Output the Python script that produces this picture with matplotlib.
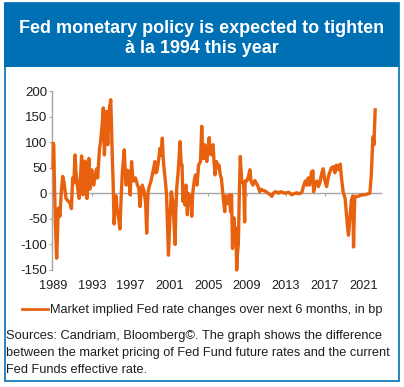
import matplotlib
matplotlib.use("Agg")
import matplotlib.pyplot as plt
from matplotlib.patches import Rectangle
from matplotlib.lines import Line2D

# ---------------- data ----------------
dates = [
    1989.00, 1989.03, 1989.08, 1989.15, 1989.25, 1989.38, 1989.45, 1989.55, 1989.65, 1989.72,
    1989.85, 1990.00, 1990.15, 1990.34, 1990.55, 1990.75, 1990.90, 1991.03, 1991.15, 1991.27,
    1991.38, 1991.50, 1991.70, 1991.80, 1991.95, 1992.05, 1992.10, 1992.20, 1992.30, 1992.40,
    1992.50, 1992.60, 1992.70, 1992.80, 1992.90, 1993.00, 1993.10, 1993.20, 1993.35, 1993.50,
    1993.60, 1993.70, 1993.80, 1993.90, 1994.05, 1994.19, 1994.25, 1994.30, 1994.40, 1994.50,
    1994.58, 1994.65, 1994.75, 1994.85, 1994.95, 1995.02, 1995.10, 1995.20, 1995.30, 1995.40,
    1995.50, 1995.60, 1995.75, 1995.90, 1996.00, 1996.15, 1996.35, 1996.45, 1996.55, 1996.65,
    1996.80, 1996.95, 1997.10, 1997.20, 1997.30, 1997.50, 1997.70, 1997.85, 1997.97, 1998.10,
    1998.20, 1998.40, 1998.55, 1998.66, 1998.75, 1998.80, 1998.95, 1999.10, 1999.30, 1999.50,
    1999.60, 1999.70, 1999.85, 2000.03, 2000.15, 2000.27, 2000.35, 2000.45, 2000.60, 2000.70,
    2000.80, 2000.90, 2001.00, 2001.05, 2001.20, 2001.35, 2001.45, 2001.58, 2001.65, 2001.75,
    2001.90, 2002.00, 2002.10, 2002.20, 2002.30, 2002.40, 2002.50, 2002.60, 2002.70, 2002.85,
    2002.95, 2003.05, 2003.20, 2003.30, 2003.40, 2003.50, 2003.60, 2003.70, 2003.85, 2004.00,
    2004.20, 2004.33, 2004.42, 2004.50, 2004.65, 2004.75, 2004.85, 2005.00, 2005.10, 2005.20,
    2005.30, 2005.50, 2005.60, 2005.70, 2005.85, 2006.00, 2006.10, 2006.25, 2006.35, 2006.45,
    2006.55, 2006.70, 2006.80, 2006.90, 2007.05, 2007.15, 2007.30, 2007.40, 2007.50, 2007.60,
    2007.65, 2007.75, 2007.85, 2007.93, 2008.00, 2008.10, 2008.20, 2008.30, 2008.40, 2008.45,
    2008.55, 2008.65, 2008.75, 2008.80, 2008.97, 2009.10, 2009.30, 2009.40, 2009.60, 2009.80,
    2009.95, 2010.10, 2010.30, 2010.45, 2010.60, 2010.80, 2010.95, 2011.20, 2011.40, 2011.55,
    2011.70, 2011.90, 2012.10, 2012.25, 2012.45, 2012.60, 2012.80, 2012.90, 2013.10, 2013.25,
    2013.45, 2013.60, 2013.80, 2013.95, 2014.15, 2014.30, 2014.50, 2014.65, 2014.80, 2015.00,
    2015.15, 2015.30, 2015.45, 2015.65, 2015.80, 2015.85, 2016.00, 2016.20, 2016.35, 2016.50,
    2016.70, 2016.85, 2017.00, 2017.20, 2017.35, 2017.50, 2017.70, 2017.90, 2018.05, 2018.20,
    2018.40, 2018.60, 2018.75, 2018.90, 2019.10, 2019.25, 2019.35, 2019.45, 2019.60, 2019.75,
    2019.90, 2019.97, 2020.05, 2020.10, 2020.20, 2020.45, 2020.70, 2020.95, 2021.30, 2021.65,
    2021.80, 2021.95, 2022.00, 2022.07, 2022.20,
]
bp = [
    50, 98, 95, 20, -60, -127, -90, -29, -40, -45,
    0, 33, 20, -10, -15, -19, -30, 30, 20, 75,
    40, 16, -10, 20, 73, 30, -3, 40, 63, 20,
    -10, 30, 68, 8, 30, 46, 25, 16, 35, 48,
    30, 60, 88, 100, 130, 167, 110, 75, 120, 160,
    120, 95, 150, 170, 183, 140, 80, 20, -60, -30,
    -5, -30, -45, -70, -20, 42, 85, 40, 16, 45,
    42, -3, 62, 35, 24, 30, 16, 10, -26, 5,
    16, 3, -20, -78, -20, 3, 15, 24, 42, 62,
    40, 42, 60, 88, 75, 108, 70, 48, 20, -3,
    -60, -121, -70, -48, 3, -16, -50, -100, -40, 10,
    42, 70, 101, 60, 55, -16, 10, -23, 16, -42,
    0, -10, -5, -45, 0, 16, 30, 36, 16, 55,
    62, 131, 80, 68, 95, 75, 62, 90, 109, 80,
    75, 95, 60, 36, 62, 50, 55, 35, 30, 10,
    -10, -36, -5, -10, -20, -3, -36, -3, -108, -60,
    -48, -80, -68, -150, -120, -100, -3, 72, 40, 24,
    20, 20, -56, 24, 24, 30, 46, 24, 16, 25,
    20, 15, 3, 8, 6, 5, 3, 0, -3, -6,
    0, 3, 2, 0, 3, 2, 1, 0, 1, 2,
    0, -3, -1, 0, 1, -1, 0, 2, 13, 24,
    16, 30, 16, 42, 44, 3, 16, 24, 13, 20,
    40, 48, 26, 13, 30, 40, 50, 52, 40, 55,
    46, 57, 26, 3, -10, -42, -65, -82, -48, -13,
    -5, -105, -40, -10, -6, -6, -4, -3, -2, 0,
    36, 104, 111, 95, 163,
]
xticks = [1989, 1993, 1997, 2001, 2005, 2009, 2013, 2017, 2021]
yticks = [-150, -100, -50, 0, 50, 100, 150, 200]
title_lines = ["Fed monetary policy is expected to tighten", "à la 1994 this year"]
legend_label = "Market implied Fed rate changes over next 6 months, in bp"
source_lines = [
    "Sources: Candriam, Bloomberg©. The graph shows the difference",
    "between the market pricing of Fed Fund future rates and the current",
    "Fed Funds effective rate.",
]

# ---------------- styling ----------------
W, H = 404, 387
FONT = "Liberation Sans"
BLUE = "#0070B5"
ORANGE = "#E8610E"
GRAY = "#A6A6A6"
TXT = "#1E1E1E"

fig = plt.figure(figsize=(W / 100, H / 100), dpi=100)
renderer = fig.canvas.get_renderer()


def fx(px):
    return px / W


def fy(py):
    return 1 - py / H


def fit_text(x, y, s, target_w, size0=10, **kw):
    t = fig.text(fx(x), fy(y), s, fontsize=size0, family=FONT, va="baseline", **kw)
    w = t.get_window_extent(renderer).width
    t.set_fontsize(size0 * target_w / w)
    return t


# frame and title band
fig.patches.append(Rectangle((fx(4.5), fy(381)), fx(398.5) - fx(4.5), (381 - 3) / H,
                             transform=fig.transFigure, fill=False, edgecolor=BLUE, lw=1.2))
fig.patches.append(Rectangle((fx(4), fy(66.5)), fx(399) - fx(4), (66.5 - 3) / H,
                             transform=fig.transFigure, facecolor=BLUE, edgecolor="none"))
fit_text(202, 33.3, title_lines[0], 365, ha="center", color="white", weight="bold")
fit_text(201.5, 52.7, title_lines[1], 153, ha="center", color="white", weight="bold")

# chart
ax = fig.add_axes([fx(52), fy(270), fx(381) - fx(52), (270 - 91) / H])
ax.plot(dates, bp, color=ORANGE, lw=2.4, solid_joinstyle="round", clip_on=False, zorder=3)
ax.set_xlim(1988.9, 2022.8)
ax.set_ylim(-150, 200)
ax.set_facecolor("none")
for s in ("top", "right"):
    ax.spines[s].set_visible(False)
ax.spines["left"].set_color(GRAY)
ax.spines["left"].set_linewidth(1.0)
ax.spines["bottom"].set_position(("data", 0))
ax.spines["bottom"].set_color(GRAY)
ax.spines["bottom"].set_linewidth(1.0)
ax.set_xticks(xticks)
ax.tick_params(axis="x", length=2.5, width=0.8, color=GRAY, labelbottom=False, direction="out")
ax.set_yticks(yticks)
ax.set_yticklabels([str(v) for v in yticks])
ax.tick_params(axis="y", length=2, width=0.8, color=GRAY, pad=1.5, labelsize=9.5,
               labelcolor=TXT)
for lab in ax.get_yticklabels():
    lab.set_family(FONT)

sec = ax.secondary_xaxis("bottom")
sec.set_xticks(xticks)
sec.set_xticklabels([str(v) for v in xticks])
sec.tick_params(length=0, pad=7.5, labelsize=9.2, labelcolor=TXT)
sec.spines["bottom"].set_visible(False)
for lab in sec.get_xticklabels():
    lab.set_family(FONT)

# legend
fig.lines.append(Line2D([fx(22), fx(48)], [fy(309), fy(309)], transform=fig.transFigure,
                        color=ORANGE, lw=2.0))
fit_text(50, 313.3, legend_label, 334, ha="left", color=TXT)

# source note
for line, y, w in zip(source_lines, [339.3, 356.0, 373.3], [377, 384, 141]):
    fit_text(6.5, y, line, w, ha="left", color=TXT)

fig.savefig("out.png", dpi=100)
